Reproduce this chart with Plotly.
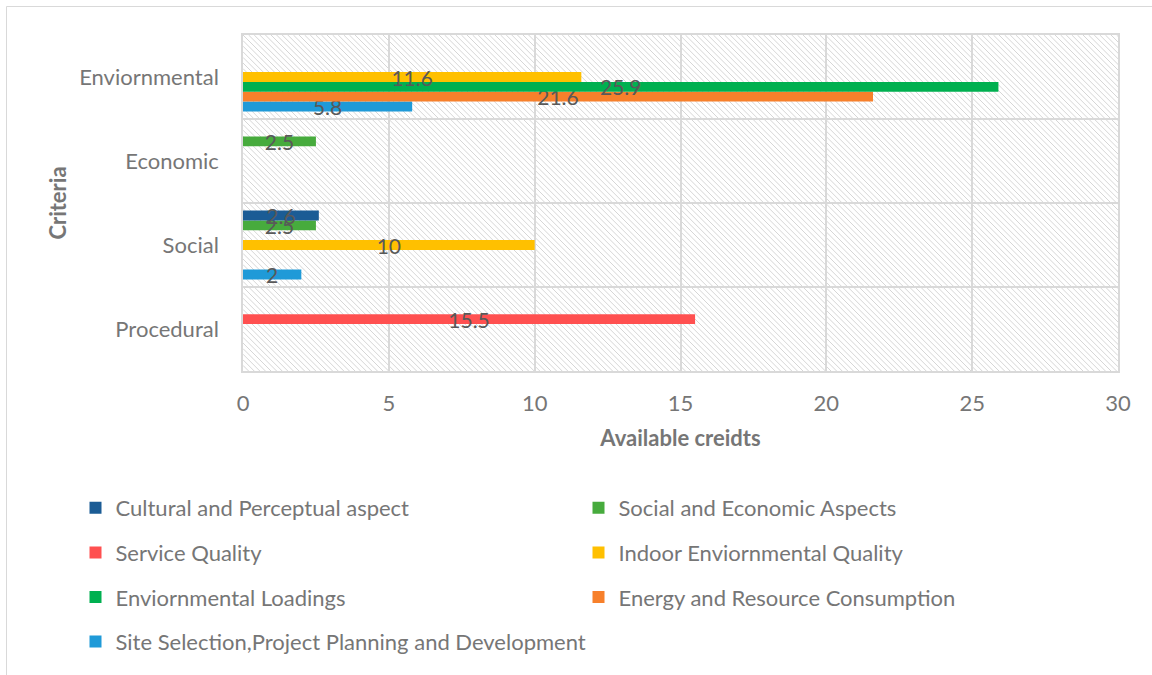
import plotly.graph_objects as go

# ---------------- data ----------------
categories = ["Enviornmental", "Economic", "Social", "Procedural"]
series_names = [
    "Cultural and Perceptual aspect",
    "Social and Economic Aspects",
    "Service Quality",
    "Indoor Enviornmental Quality",
    "Enviornmental Loadings",
    "Energy and Resource Consumption",
    "Site Selection,Project Planning and Development",
]
cultural = [None, None, 2.6, None]
social_economic = [None, 2.5, 2.5, None]
service_quality = [None, None, None, 15.5]
indoor_quality = [11.6, None, 10, None]
env_loadings = [25.9, None, None, None]
energy = [21.6, None, None, None]
site_selection = [5.8, None, 2, None]
series_values = [cultural, social_economic, service_quality, indoor_quality,
                 env_loadings, energy, site_selection]
x_ticks = [0, 5, 10, 15, 20, 25, 30]

# ---------------- style ----------------
colors = ["#1B5C95", "#47AB3D", "#FF5050", "#FFC000", "#00B050", "#F7802B", "#1F9AD8"]
legend_col = [1, 2, 1, 2, 1, 2, 1]
legend_rank = [1, 1, 2, 2, 3, 3, 4]

FONT = "Lato"
TXT = "#767676"
W, H = 1152, 675
ML, MR, MT, MB = 243, 34, 35, 304
PW, PH = W - ML - MR, H - MT - MB

fig = go.Figure()
# Excel draws first series at top of each group -> add in reverse
for i in reversed(range(len(series_names))):
    vals = series_values[i]
    fig.add_trace(go.Bar(
        y=categories, x=vals, orientation="h", name=series_names[i],
        marker=dict(color=colors[i], line=dict(width=0)),
        text=[("" if v is None else f"{v:g}") for v in vals],
        textposition="inside", insidetextanchor="middle", constraintext="none",
        textangle=0,
        textfont=dict(family=FONT, size=21, color="#595959"),
        legend="legend" if legend_col[i] == 1 else "legend2",
        legendgroup=series_names[i], legendrank=legend_rank[i],
        hoverinfo="x+name",
    ))

# hatched background (decoration) as one path, below gridlines
step = 5.6
segs = []
c = -PH
while c < PW:
    ys0 = max(0.0, -c)
    ys1 = min(float(PH), PW - c)
    if ys1 > ys0:
        x0, x1 = ys0 + c, ys1 + c
        segs.append(f"M{x0/PW:.5f},{1-ys0/PH:.5f} L{x1/PW:.5f},{1-ys1/PH:.5f}")
    c += step
hatch = dict(type="path", path=" ".join(segs), xref="x domain", yref="y domain",
             line=dict(color="#d6d6d6", width=1), layer="below")

border = dict(type="rect", xref="paper", yref="paper",
              x0=(6.5 - ML) / PW, x1=(1170 - ML) / PW,
              y0=-(690 - (MT + PH)) / PH, y1=(MT + PH - 6.5) / PH,
              line=dict(color="#d9d9d9", width=1), fillcolor="rgba(0,0,0,0)", layer="below")

def ypaper(px):
    return (MT + PH - px) / PH

def xpaper(px):
    return (px - ML) / PW

legend_common = dict(orientation="v", xanchor="left", yanchor="top",
                     font=dict(family=FONT, size=22, color=TXT),
                     bgcolor="rgba(0,0,0,0)", tracegroupgap=13, traceorder="grouped",
                     itemclick=False, itemdoubleclick=False)

fig.update_layout(
    width=W, height=H,
    margin=dict(l=ML, r=MR, t=MT, b=MB, autoexpand=False),
    paper_bgcolor="white", plot_bgcolor="white",
    barmode="group", bargap=0.18, bargroupgap=0,
    font=dict(family=FONT, color=TXT),
    shapes=[border, hatch],
    legend=dict(x=xpaper(75.5), y=ypaper(487), **legend_common),
    legend2=dict(x=xpaper(578.5), y=ypaper(487), **legend_common),
    xaxis=dict(range=[0, 30], tickvals=x_ticks, ticktext=[str(t) for t in x_ticks],
               showgrid=True, gridcolor="#d9d9d9", gridwidth=1.5,
               showline=True, linecolor="#d9d9d9", linewidth=1.5, mirror=True,
               zeroline=False, ticks="", ticklabelstandoff=12,
               tickfont=dict(family=FONT, size=22, color=TXT),
               title=dict(text="<b>Available creidts</b>", standoff=15,
                          font=dict(family=FONT, size=22, color=TXT))),
    yaxis=dict(type="category", categoryorder="array",
               categoryarray=list(reversed(categories)),
               tickson="boundaries", showgrid=True, gridcolor="#d9d9d9", gridwidth=1.5,
               showline=True, linecolor="#d9d9d9", linewidth=1.5, mirror=True,
               ticks="", ticklabelstandoff=18,
               tickfont=dict(family=FONT, size=22, color=TXT),
               title=dict(text="<b>Criteria</b>", standoff=6,
                          font=dict(family=FONT, size=22, color=TXT))),
)

fig.write_html("out.html", config={"displayModeBar": False},
               post_script="document.body.style.margin='0px';")
